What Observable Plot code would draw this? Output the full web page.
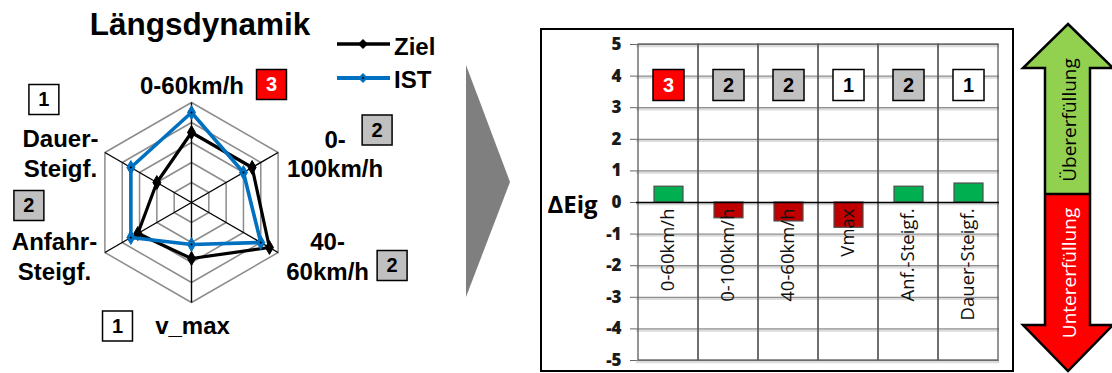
<!DOCTYPE html>
<html><head><meta charset="utf-8">
<script src="https://cdn.jsdelivr.net/npm/d3@7"></script>
<script src="https://cdn.jsdelivr.net/npm/@observablehq/plot@0.6"></script>
<style>
body{margin:0;background:#fff;}
#root{position:relative;width:1112px;height:373px;overflow:hidden;font-family:"Liberation Sans",Arial,sans-serif;}
.abs{position:absolute;}
</style></head><body><div id="root"></div>
<script>
// ---------- data ----------
const title = "Längsdynamik";
const seriesNames = ["Ziel", "IST"];
const radarCategories = ["0-60km/h", "0-\n100km/h", "40-\n60km/h", "v_max", "Anfahr-\nSteigf.", "Dauer-\nSteigf."];
const zielValues = [3.5, 3.5, 4.5, 2.8, 3.1, 2.0];
const istValues  = [4.5, 3.0, 4.0, 2.1, 3.5, 3.5];
const ringLevels = [1, 2, 3, 4, 5];
const ratings = [3, 2, 2, 1, 2, 1];
const barCategories = ["0-60km/h", "0-100km/h", "40-60km/h", "Vmax", "Anf.-Steigf.", "Dauer-Steigf."];
const deltaValues = [0.5, -0.5, -0.6, -0.8, 0.5, 0.6];
const yTickValues = [-5, -4, -3, -2, -1, 0, 1, 2, 3, 4, 5];
const yLabel = "ΔEig";
const arrowLabels = ["Übererfüllung", "Untererfüllung"];

// ---------- styles / layout ----------
const seriesColor = {Ziel: "#000000", IST: "#0070c0"};
const seriesWidth = {Ziel: 3.2, IST: 3.6};
const ratingFill = r => r === 3 ? "#ff0000" : r === 2 ? "#c0c0c0" : "#ffffff";
const ratingInk = r => r === 3 ? "#ffffff" : "#000000";
const radarLabelOffset = [[0.5, -18], [57, 0.5], [49.5, 3], [1, 22], [-50.4, 3], [-44.4, 0]];
const radarBoxOffset = [[80, -18], [99, -22.5], [114, 13], [-74, 23.5], [-76, -47], [-61, -53]];

const root = document.getElementById("root");

// ---------- radar ----------
const RW = 460, RH = 373, CX = 191, CY = 202, UNIT = 20;
const n = radarCategories.length;
const ang = i => i * 2 * Math.PI / n;
const px = (i, v) => v * Math.sin(ang(i));
const py = (i, v) => v * Math.cos(ang(i));
const maxLevel = d3.max(ringLevels);
const ringPts = ringLevels.flatMap(k => radarCategories.map((c, i) => ({k, x: px(i, k), y: py(i, k)})));
const spokes = radarCategories.map((c, i) => ({i, x: px(i, maxLevel), y: py(i, maxLevel)}));
const seriesPts = seriesNames.flatMap((s, si) => (si === 0 ? zielValues : istValues)
  .map((v, i) => ({series: s, i, v, x: px(i, v), y: py(i, v)})));

const radarMarks = [
  Plot.line(ringPts, {x: "x", y: "y", z: "k", curve: "linear-closed", stroke: "#8c8c8c", strokeWidth: 1.5}),
  Plot.link(spokes, {x1: () => 0, y1: () => 0, x2: "x", y2: "y", stroke: "#000", strokeWidth: 1.4}),
];
for (const s of seriesNames) {
  const pts = seriesPts.filter(d => d.series === s);
  radarMarks.push(Plot.line(pts, {x: "x", y: "y", curve: "linear-closed", stroke: seriesColor[s], strokeWidth: seriesWidth[s], strokeLinejoin: "round"}));
  radarMarks.push(Plot.dot(pts, {x: "x", y: "y", symbol: "diamond", r: 4.2, fill: seriesColor[s], stroke: seriesColor[s], strokeWidth: 1}));
  radarMarks.push(Plot.dot(pts, {x: "x", y: "y", r: 1, fill: "#000"}));
}
radarCategories.forEach((c, i) => {
  const [ldx, ldy] = radarLabelOffset[i];
  const [bdx, bdy] = radarBoxOffset[i];
  radarMarks.push(Plot.text([spokes[i]], {x: "x", y: "y", text: () => c, dx: ldx, dy: ldy,
    fontSize: 24, fontWeight: "bold", lineHeight: 1.22, fill: "#000"}));
  radarMarks.push(Plot.dot([spokes[i]], {x: "x", y: "y", dx: bdx, dy: bdy, symbol: "square", r: 16.9,
    fill: ratingFill(ratings[i]), stroke: "#000", strokeWidth: 1.5}));
  radarMarks.push(Plot.text([spokes[i]], {x: "x", y: "y", dx: bdx, dy: bdy + 0.5, text: () => String(ratings[i]),
    fill: ratingInk(ratings[i]), fontSize: 20, fontWeight: "bold"}));
});

const radar = Plot.plot({
  width: RW, height: RH, margin: 0,
  style: {fontFamily: "'Liberation Sans', Arial, sans-serif", background: "transparent", overflow: "visible"},
  x: {domain: [-CX / UNIT, (RW - CX) / UNIT], axis: null},
  y: {domain: [-(RH - CY) / UNIT, CY / UNIT], axis: null},
  marks: radarMarks
});
const rdiv = document.createElement("div");
rdiv.className = "abs"; rdiv.style.left = "0px"; rdiv.style.top = "0px";
rdiv.appendChild(radar); root.appendChild(rdiv);

// ---------- bar chart ----------
const barData = barCategories.map((c, i) => ({cat: c, value: deltaValues[i], rating: ratings[i]}));
const bar = Plot.plot({
  width: 473, height: 343, marginLeft: 96, marginRight: 14, marginTop: 16, marginBottom: 11,
  style: {fontFamily: "'Open Sans', sans-serif", background: "transparent", overflow: "visible"},
  x: {domain: barCategories, padding: 0, axis: null},
  y: {domain: [-5, 5], axis: null},
  color: {type: "identity"},
  marks: [
    Plot.ruleY(yTickValues, {stroke: "#dcdcdc", strokeWidth: 2.5, dy: 1.5}),
    Plot.ruleY(yTickValues, {stroke: "#8f8f8f", strokeWidth: 1.2}),
    Plot.cell(barCategories, {x: d => d, fill: "none", stroke: "#5a5a5a", strokeWidth: 1.3, inset: 0}),
    Plot.barY(barData, {x: "cat", y: "value", fill: d => d.value >= 0 ? "#00b050" : "#c00000",
      stroke: "#4d4d4d", strokeWidth: 1.2, insetLeft: 16, insetRight: 15}),
    Plot.ruleY([0], {stroke: "#000", strokeWidth: 1.3}),
    Plot.axisY({ticks: yTickValues, tickSize: 6, tickFormat: () => "", label: null, stroke: "#666"}),
    Plot.text(yTickValues, {y: d => d, frameAnchor: "left", text: d => String(d), textAnchor: "end", lineAnchor: "middle", dx: -15, dy: 0,
      fontSize: 17, fontWeight: 800, fill: "#1a1a1a"}),
    Plot.text([yLabel], {frameAnchor: "left", text: d => d, textAnchor: "start", lineAnchor: "middle", dx: -89, dy: 3, fontSize: 24, fontWeight: "bold"}),
    Plot.text(barData, {x: "cat", y: () => 0, text: "cat", rotate: -90, textAnchor: "end", lineAnchor: "middle", dy: 6, fontSize: 18.5, fill: "#111"}),
    Plot.dot(barData, {x: "cat", frameAnchor: "top", dy: 40.5, symbol: "square", r: 17.5,
      fill: d => ratingFill(d.rating), stroke: "#000", strokeWidth: 1.5}),
    Plot.text(barData, {x: "cat", frameAnchor: "top", lineAnchor: "middle", dy: 41, text: d => String(d.rating),
      fill: d => ratingInk(d.rating), fontSize: 20, fontWeight: "bold", fontFamily: "'Liberation Sans', Arial, sans-serif"})
  ]
});
const bdiv = document.createElement("div");
bdiv.className = "abs"; bdiv.style.left = "540px"; bdiv.style.top = "28px";
bdiv.appendChild(bar); root.appendChild(bdiv);

// ---------- decorations (title, legend, chevron, frame, arrow) ----------
const NS = "http://www.w3.org/2000/svg";
const deco = document.createElementNS(NS, "svg");
deco.setAttribute("width", 1112); deco.setAttribute("height", 373);
deco.setAttribute("class", "abs"); deco.style.left = "0"; deco.style.top = "0"; deco.style.pointerEvents = "none";
const legendRows = seriesNames.map((s, i) => {
  const y = [44, 78][i], ty = [55, 88][i];
  return `<line x1="337" x2="390" y1="${y}" y2="${y}" stroke="${seriesColor[s]}" stroke-width="${seriesWidth[s] + 0.5}"/>
  <path d="M363,${y - 5} L368,${y} L363,${y + 5} L358,${y} Z" fill="${seriesColor[s]}"/>
  <circle cx="363" cy="${y}" r="1" fill="#000"/>
  <text x="394" y="${ty}" font-size="24" font-weight="bold">${s}</text>`;
}).join("");
deco.innerHTML = `
<g font-family="'Liberation Sans', Arial, sans-serif" fill="#000">
  <text x="200" y="35" text-anchor="middle" font-size="31.5" font-weight="bold">${title}</text>
  ${legendRows}
</g>
<polygon points="466,65 510,182 466,297" fill="#7f7f7f"/>
<rect x="541" y="29" width="472" height="342" fill="none" stroke="#000" stroke-width="2"/>
<path d="M1068,24 L1113,68 L1090,68 L1090,194 L1045,194 L1045,68 L1023,68 Z" fill="#92d050"/>
<path d="M1045,194 L1090,194 L1090,325 L1113,325 L1068,371 L1023,325 L1045,325 Z" fill="#ff0000"/>
<path d="M1068,24 L1113,68 L1090,68 L1090,325 L1113,325 L1068,371 L1023,325 L1045,325 L1045,68 L1023,68 Z" fill="none" stroke="#000" stroke-width="2.5" stroke-linejoin="miter"/>
<line x1="1045" x2="1090" y1="194" y2="194" stroke="#000" stroke-width="2.5"/>
<g font-family="'Open Sans', sans-serif" font-size="19">
  <text transform="translate(1069,120) rotate(-90)" text-anchor="middle" dominant-baseline="central" fill="#000">${arrowLabels[0]}</text>
  <text transform="translate(1069,273) rotate(-90)" text-anchor="middle" dominant-baseline="central" fill="#fff">${arrowLabels[1]}</text>
</g>`;
root.appendChild(deco);
</script></body></html>
